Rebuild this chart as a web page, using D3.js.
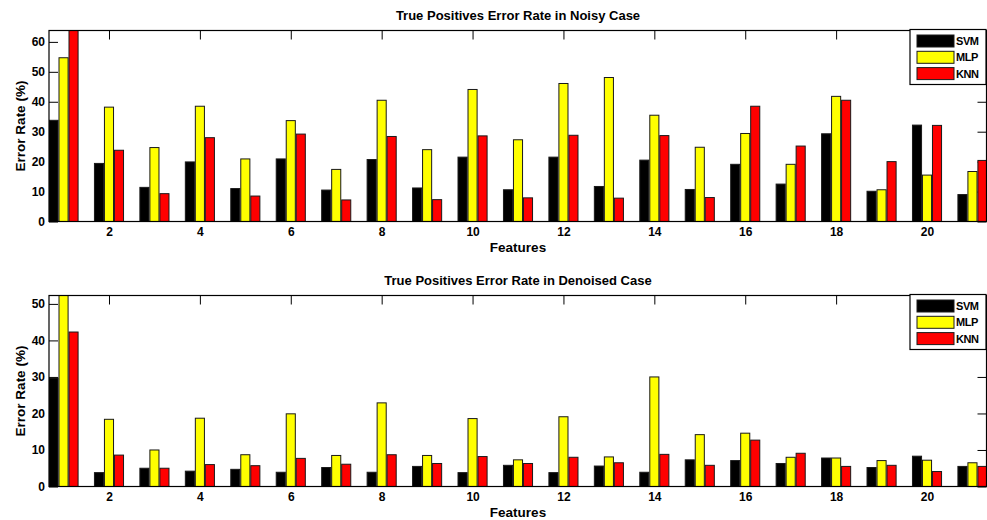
<!DOCTYPE html>
<html>
<head>
<meta charset="utf-8">
<script src="https://cdn.jsdelivr.net/npm/d3@7"></script>
<style>
  body { margin: 0; background: #fff; }
  svg { display: block; font-family: 'Liberation Sans', Arial, sans-serif; font-weight: bold; }
</style>
</head>
<body>
<div id="chart"></div>
<script>
const features = [1, 2, 3, 4, 5, 6, 7, 8, 9, 10, 11, 12, 13, 14, 15, 16, 17, 18, 19, 20, 21]
const xTicks = [2, 4, 6, 8, 10, 12, 14, 16, 18, 20]
const seriesNames = ['SVM', 'MLP', 'KNN']
const seriesColors = ['#000000', '#ffff00', '#ff0000']

const svmNoisy = [33.8, 19.4, 11.4, 19.9, 11.0, 20.9, 10.5, 20.7, 11.2, 21.5, 10.6, 21.5, 11.7, 20.5, 10.7, 19.1, 12.5, 29.3, 10.1, 32.2, 9.0]
const mlpNoisy = [54.7, 38.2, 24.7, 38.5, 20.9, 33.7, 17.4, 40.5, 24.0, 44.1, 27.3, 46.1, 48.1, 35.5, 24.8, 29.4, 19.1, 41.8, 10.6, 15.5, 16.7]
const knnNoisy = [63.8, 23.8, 9.3, 28.0, 8.5, 29.2, 7.2, 28.4, 7.3, 28.6, 7.9, 28.8, 7.8, 28.7, 8.0, 38.5, 25.2, 40.5, 20.0, 32.1, 20.4]
const noisyTicks = [0, 10, 20, 30, 40, 50, 60]

const svmDenoised = [29.7, 3.8, 5.0, 4.2, 4.7, 3.9, 5.2, 3.9, 5.5, 3.8, 5.8, 3.8, 5.6, 3.9, 7.3, 7.1, 6.3, 7.8, 5.2, 8.3, 5.5]
const mlpDenoised = [52.3, 18.4, 10.0, 18.7, 8.7, 19.9, 8.5, 22.9, 8.5, 18.6, 7.3, 19.1, 8.1, 30.0, 14.2, 14.6, 8.0, 7.8, 7.1, 7.2, 6.5]
const knnDenoised = [42.3, 8.6, 5.0, 6.0, 5.7, 7.7, 6.1, 8.7, 6.3, 8.2, 6.3, 8.0, 6.5, 8.8, 5.8, 12.7, 9.1, 5.5, 5.8, 4.1, 5.5]
const denoisedTicks = [0, 10, 20, 30, 40, 50]

const W = 987
const H = 520
const BAR_OFFSET = 0.22
const BAR_WIDTH = 0.2

const svg = d3.select('#chart')
  .append('svg')
  .attr('width', W)
  .attr('height', H)

function panel(id, title, series, yTicks, box) {
  const { LEFT, RIGHT, TOP, BOTTOM } = box
  const edge = BAR_OFFSET + BAR_WIDTH / 2

  const x = d3.scaleLinear()
    .domain([features[0] - edge, features[features.length - 1] + edge])
    .range([LEFT, RIGHT])

  const y = d3.scaleLinear()
    .domain([0, d3.max(series.flat())])
    .range([BOTTOM, TOP])

  const g = svg.append('g')

  svg.append('clipPath')
    .attr('id', 'clip-' + id)
    .append('rect')
    .attr('x', LEFT)
    .attr('y', TOP)
    .attr('width', RIGHT - LEFT)
    .attr('height', BOTTOM - TOP)

  // ticks first so the bars sit on top of them (like matlab)
  const TICK = 9
  const fontTicks = a => a.selectAll('text')
    .attr('font-size', '12px')
    .attr('font-weight', 'bold')
    .attr('fill', '#000')

  g.append('g')
    .attr('transform', `translate(0, ${BOTTOM})`)
    .call(d3.axisBottom(x).tickValues(xTicks).tickSize(-TICK).tickPadding(6).tickSizeOuter(0))
    .call(fontTicks)

  g.append('g')
    .attr('transform', `translate(0, ${TOP})`)
    .call(d3.axisTop(x).tickValues(xTicks).tickSize(-TICK).tickFormat('').tickSizeOuter(0))

  g.append('g')
    .attr('transform', `translate(${LEFT}, 0)`)
    .call(d3.axisLeft(y).tickValues(yTicks).tickSize(-TICK).tickPadding(4).tickSizeOuter(0))
    .call(fontTicks)

  g.append('g')
    .attr('transform', `translate(${RIGHT - 0.5}, 0)`)
    .call(d3.axisRight(y).tickValues(yTicks).tickSize(-TICK).tickFormat('').tickSizeOuter(0))

  g.selectAll('.domain').remove()
  g.selectAll('.tick line').attr('stroke', '#000')

  // bars
  const bars = g.append('g').attr('clip-path', `url(#clip-${id})`)
  series.forEach((values, s) => {
    bars.selectAll('.bar-' + s)
      .data(values)
      .enter()
      .append('rect')
      .attr('class', 'bar-' + s)
      .attr('x', (d, i) => x(features[i] + (s - 1) * BAR_OFFSET - BAR_WIDTH / 2))
      .attr('width', x(BAR_WIDTH) - x(0))
      .attr('y', d => y(d))
      .attr('height', d => y(0) - y(d))
      .attr('fill', seriesColors[s])
      .attr('stroke', '#1a1a1a')
      .attr('stroke-width', 1)
  })

  // frame
  g.append('rect')
    .attr('x', LEFT)
    .attr('y', TOP)
    .attr('width', RIGHT - 0.5 - LEFT)
    .attr('height', BOTTOM - TOP)
    .attr('fill', 'none')
    .attr('stroke', '#000')
    .attr('stroke-width', 1.2)

  // title and labels
  const midX = (LEFT + RIGHT) / 2
  svg.append('text')
    .attr('x', midX)
    .attr('y', TOP - 10.5)
    .attr('text-anchor', 'middle')
    .attr('font-size', '13px')
    .text(title)

  svg.append('text')
    .attr('x', midX)
    .attr('y', BOTTOM + 30.5)
    .attr('text-anchor', 'middle')
    .attr('font-size', '13.5px')
    .text('Features')

  svg.append('text')
    .attr('transform', `translate(25, ${(TOP + BOTTOM) / 2}) rotate(-90)`)
    .attr('text-anchor', 'middle')
    .attr('font-size', '13.5px')
    .text('Error Rate (%)')

  // legend
  const lg = svg.append('g').attr('transform', `translate(910, ${TOP - 1})`)
  lg.append('rect')
    .attr('width', 76)
    .attr('height', 55)
    .attr('fill', '#fff')
    .attr('stroke', '#000')
    .attr('stroke-width', 1.2)
  seriesNames.forEach((name, s) => {
    lg.append('rect')
      .attr('x', 7)
      .attr('y', 5.5 + s * 16.3)
      .attr('width', 37)
      .attr('height', 12)
      .attr('fill', seriesColors[s])
      .attr('stroke', '#1a1a1a')
    lg.append('text')
      .attr('x', 46)
      .attr('y', 15.5 + s * 16.3)
      .attr('font-size', '11px')
      .attr('letter-spacing', '-0.4px')
      .text(name)
  })
}

panel('noisy', 'True Positives Error Rate in Noisy Case',
  [svmNoisy, mlpNoisy, knnNoisy], noisyTicks,
  { LEFT: 49, RIGHT: 987, TOP: 30.5, BOTTOM: 221.5 })

panel('denoised', 'True Positives Error Rate in Denoised Case',
  [svmDenoised, mlpDenoised, knnDenoised], denoisedTicks,
  { LEFT: 49, RIGHT: 987, TOP: 295.5, BOTTOM: 486.5 })
</script>
</body>
</html>
